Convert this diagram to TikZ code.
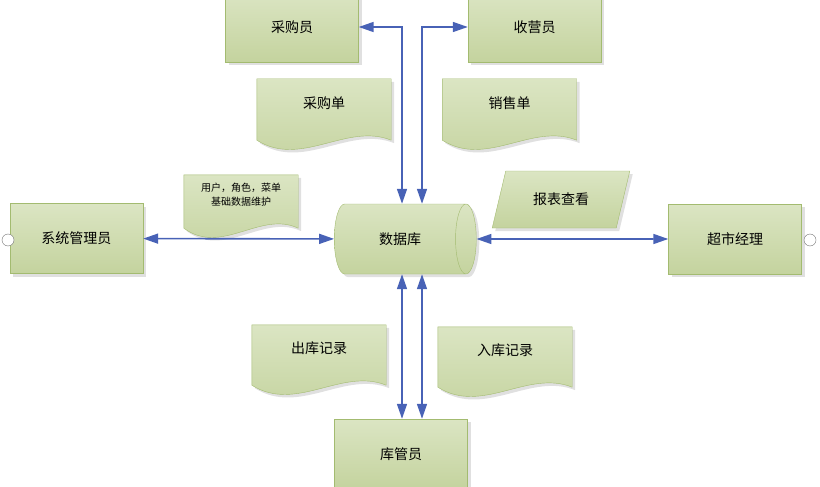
\documentclass[tikz,border=0pt]{standalone}
\usepackage{fontspec}
\newfontfamily\cjk{Noto Sans CJK SC}
\usetikzlibrary{shapes.geometric,arrows.meta,shadows,calc,backgrounds}
\definecolor{boxtop}{RGB}{219,229,195}
\definecolor{boxbot}{RGB}{196,211,158}
\definecolor{boxline}{RGB}{163,187,112}
\definecolor{flowblue}{RGB}{72,98,182}
\tikzset{
  greenfill/.style={top color=boxtop,bottom color=boxbot,draw=boxline,
    drop shadow={shadow xshift=3pt,shadow yshift=-3pt,fill=black!40,opacity=0.3}},
  actor/.style={greenfill,rectangle,minimum width=133pt,minimum height=70pt,
    inner sep=0pt,font=\cjk\fontsize{14}{16}\selectfont},
  docbody/.style={rectangle,minimum width=134pt,minimum height=48pt,
    inner sep=0pt,font=\cjk\fontsize{14}{16}\selectfont},
  port/.style={circle,draw=black!55,fill=white,minimum size=12pt,inner sep=0pt},
  flow/.style={<->,>={Triangle[length=15pt,width=10pt]},draw=flowblue,line width=1.6pt},
}
% document shape with a wavy lower edge, drawn round a named node
\newcommand\docwave[1]{%
  \path[greenfill] (#1.north west) -- (#1.north east) -- ([yshift=-13pt]#1.south east)
    .. controls ([yshift=5pt]$(#1.south west)!0.67!(#1.south east)$)
    and ([yshift=-41pt]$(#1.south west)!0.33!(#1.south east)$)
    .. ([yshift=-13pt]#1.south west) -- cycle;}
\begin{document}
\begin{tikzpicture}[x=1pt,y=-1pt]
  \useasboundingbox (0,0) rectangle (820,487);
  % people
  \draw
    (292,27) node[actor] (cgy){采购员}
    (534.5,27) node[actor] (sxy){收营员}
    (76.5,238.5) node[actor] (xtgly){系统管理员}
    (735,239) node[actor] (csjl){超市经理}
    (401,454) node[actor] (kgy){库管员};
  \node[port] (p1) at (8,240) {};
  \node[port] (p2) at (810,240) {};
  % store
  \node[greenfill,cylinder,shape border rotate=0,aspect=1.6,minimum width=70pt,
    minimum height=142pt,inner sep=0pt,font=\cjk\fontsize{14}{16}\selectfont] (db) at (400,239) {数据库};
  \node[greenfill,trapezium,trapezium stretches=true,trapezium left angle=62,
    trapezium right angle=118,minimum width=138pt,minimum height=57pt,inner sep=0pt,
    font=\cjk\fontsize{14}{16}\selectfont] (bbck) at (561,199.5) {报表查看};
  % documents
  \draw
    (324,103) node[docbody] (cgd){采购单}
    (509.5,103) node[docbody] (xsd){销售单}
    (319,348.5) node[docbody,minimum height=47pt] (ckjl){出库记录}
    (505,350.5) node[docbody,minimum height=47pt] (rkjl){入库记录}
    (241,195) node[docbody,minimum width=114pt,minimum height=40pt,align=center,
      font=\cjk\fontsize{10}{14}\selectfont] (wh){用户，角色，菜单\\基础数据维护};
  \begin{pgfonlayer}{background}
    \docwave{cgd}
    \docwave{xsd}
    \docwave{ckjl}
    \docwave{rkjl}
    \docwave{wh}
  \end{pgfonlayer}
  % flows
  \coordinate (lane1) at (402,0);
  \coordinate (lane2) at (422,0);
  \begin{scope}[flow]
    \draw (xtgly) to (db);
    \draw (db) to (csjl);
    \draw (db.north -| lane1) |- (cgy.east);
    \draw (db.north -| lane2) |- (sxy.west);
    \draw (db.south -| lane1) to (kgy.north -| lane1);
    \draw (db.south -| lane2) to (kgy.north -| lane2);
  \end{scope}
\end{tikzpicture}
\end{document}
